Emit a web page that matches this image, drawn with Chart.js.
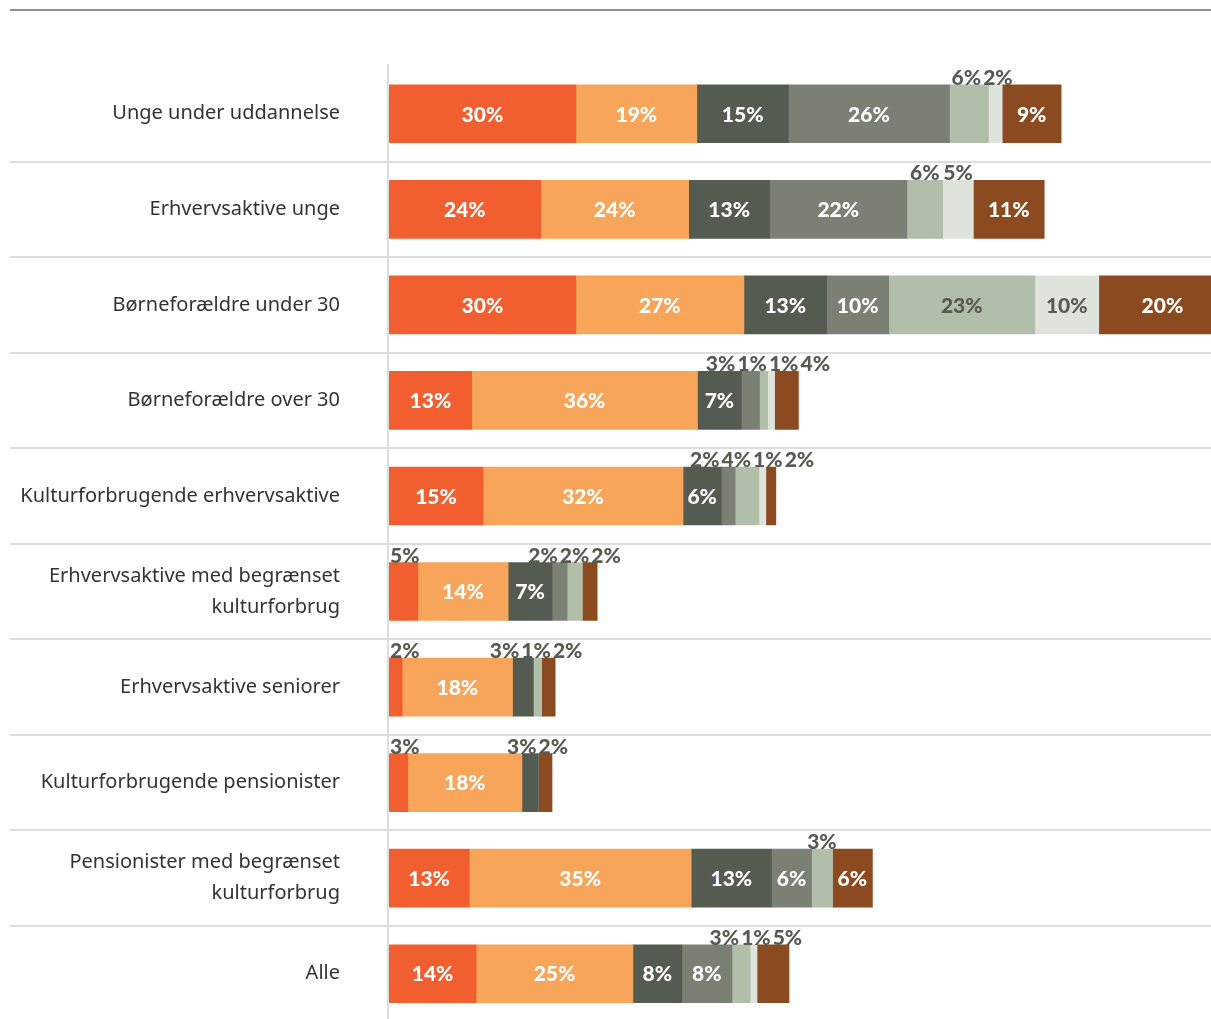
<!DOCTYPE html>
<html>
<head>
<meta charset="utf-8">
<script src="https://cdn.jsdelivr.net/npm/chart.js@4.4.1/dist/chart.umd.min.js"></script>
<style>
html,body{margin:0;padding:0;background:#fff;overflow:hidden;}
canvas{display:block;}
</style>
</head>
<body>
<canvas id="c" width="1211" height="1086"></canvas>
<script>
const categories = [
  'Unge under uddannelse',
  'Erhvervsaktive unge',
  'Børneforældre under 30',
  'Børneforældre over 30',
  'Kulturforbrugende erhvervsaktive',
  ['Erhvervsaktive med begrænset', 'kulturforbrug'],
  'Erhvervsaktive seniorer',
  'Kulturforbrugende pensionister',
  ['Pensionister med begrænset', 'kulturforbrug'],
  'Alle'
];
const series1 = [29.8, 24.2, 29.8, 13.2, 15.0, 4.6, 2.1, 3.0, 12.8, 13.9];
const series2 = [19.3, 23.6, 26.8, 36.0, 31.9, 14.4, 17.6, 18.2, 35.4, 25.0];
const series3 = [14.6, 12.9, 13.2, 7.0, 6.1, 7.0, 3.3, 2.6, 12.8, 7.8];
const series4 = [25.7, 21.9, 9.9, 2.9, 2.2, 2.4, 0, 0, 6.4, 8.0];
const series5 = [6.2, 5.7, 23.3, 1.3, 3.8, 2.4, 1.3, 0, 3.3, 2.9];
const series6 = [2.2, 4.9, 10.2, 1.1, 1.1, 0, 0, 0, 0, 1.1];
const series7 = [9.4, 11.3, 20.3, 3.8, 1.6, 2.4, 2.2, 2.2, 6.4, 5.1];

const seriesList = [series1, series2, series3, series4, series5, series6, series7];
const colors = ['#F15F30', '#F6A55A', '#545B50', '#7A8174', '#B1BEA9', '#DEE3DC', '#8B4A1F'];
const textColors = ['#fff', '#fff', '#fff', '#fff', '#555B50', '#555B50', '#fff'];
const insideMin = [5.5, 5.5, 5.5, 5.5, 9.5, 9.5, 5.5];

const LABEL_FONT = '900 21px Lato, "Open Sans", sans-serif';
const DARK = '#555B50';

const decor = {
  id: 'decor',
  beforeDraw(chart) {
    const ctx = chart.ctx, ys = chart.scales.y, ca = chart.chartArea;
    ctx.save();
    ctx.fillStyle = '#8C9585';
    ctx.fillRect(10, 9, chart.width - 10, 2);
    ctx.fillStyle = '#DDDDDD';
    const n = categories.length;
    for (let i = 0; i < n; i++) {
      const y = i < n - 1 ? (ys.getPixelForValue(i) + ys.getPixelForValue(i + 1)) / 2
                          : ys.getPixelForValue(i) + (ys.getPixelForValue(i) - ys.getPixelForValue(i - 1)) / 2;
      ctx.fillRect(10, Math.round(y) - 1, chart.width - 10, 2);
    }
    ctx.fillRect(ca.left - 2, ca.top - 2, 2, chart.height - ca.top + 2);
    ctx.restore();
  },
  afterDatasetsDraw(chart) {
    const ctx = chart.ctx, ca = chart.chartArea;
    ctx.save();
    ctx.font = LABEL_FONT;
    ctx.textAlign = 'center';
    for (let i = 0; i < categories.length; i++) {
      const above = [];
      let top = 0;
      chart.data.datasets.forEach((ds, di) => {
        const el = chart.getDatasetMeta(di).data[i];
        const v = ds.data[i];
        if (!el || !v) return;
        const x0 = Math.min(el.base, el.x), x1 = Math.max(el.base, el.x);
        const cx = (x0 + x1) / 2;
        top = el.y - el.height / 2;
        const txt = Math.round(v) + '%';
        if (v >= insideMin[di]) {
          ctx.fillStyle = textColors[di];
          ctx.textBaseline = 'middle';
          ctx.fillText(txt, cx, el.y + 1);
        } else {
          above.push({ txt, c: cx, w: ctx.measureText(txt).width });
        }
      });
      const gap = 2;
      for (let it = 0; it < 200; it++) {
        let moved = false;
        for (let k = 0; k < above.length - 1; k++) {
          const a = above[k], b = above[k + 1];
          const ov = (a.c + a.w / 2 + gap) - (b.c - b.w / 2);
          if (ov > 0.01) { a.c -= ov / 2; b.c += ov / 2; moved = true; }
        }
        if (above.length) {
          const minC = ca.left + 1 + above[0].w / 2;
          if (above[0].c < minC) { above[0].c = minC; moved = true; }
        }
        if (!moved) break;
      }
      ctx.fillStyle = DARK;
      ctx.textBaseline = 'alphabetic';
      above.forEach(l => ctx.fillText(l.txt, l.c, top));
    }
    ctx.restore();
  }
};

const datasets = seriesList.map((d, i) => ({
  label: 'S' + (i + 1),
  data: d,
  backgroundColor: colors[i],
  borderWidth: 0,
  barThickness: 58
}));

new Chart(document.getElementById('c'), {
  type: 'bar',
  data: { labels: categories, datasets },
  plugins: [decor],
  options: {
    indexAxis: 'y',
    responsive: false,
    animation: false,
    layout: { padding: { top: 66, left: 10, right: 0, bottom: 4 } },
    plugins: { legend: { display: false }, tooltip: { enabled: false } },
    scales: {
      x: { stacked: true, display: false, min: 0, max: 131.1 },
      y: {
        stacked: true,
        grid: { display: false, drawTicks: false },
        border: { display: false },
        afterFit: s => { s.width = 379; },
        ticks: {
          padding: 49,
          color: '#333333',
          font: { family: '"Noto Sans", "Open Sans", sans-serif', size: 20, lineHeight: 1.55 }
        }
      }
    }
  }
});
</script>
</body>
</html>
